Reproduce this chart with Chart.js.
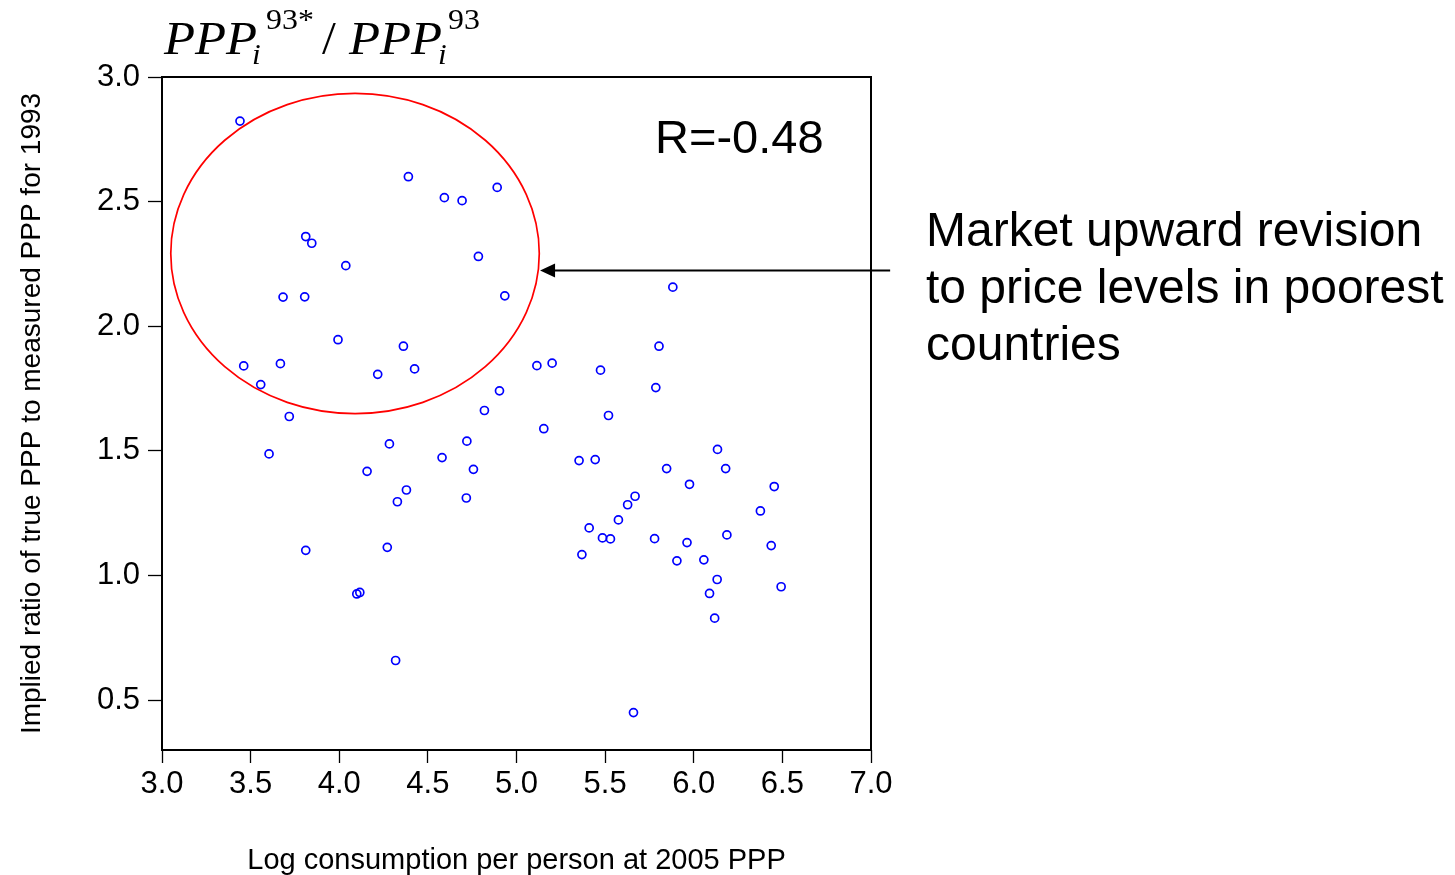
<!DOCTYPE html>
<html>
<head>
<meta charset="utf-8">
<title>PPP revision vs consumption</title>
<script src="https://cdn.jsdelivr.net/npm/chart.js@4.4.0/dist/chart.umd.min.js"></script>
<style>
  html, body { margin: 0; padding: 0; background: #ffffff; }
  #wrap { width: 1455px; height: 875px; position: relative; }
</style>
</head>
<body>
<div id="wrap"><canvas id="chart" width="1455" height="875"></canvas></div>
<script>
// Log consumption per person (2005 PPP) for each country
const logConsumption = [
  3.440, 3.461, 3.557, 3.604, 3.668, 3.683, 3.718, 3.811, 3.845, 3.805,
  3.811, 3.993, 4.037, 4.099, 4.116, 4.157, 4.217, 4.271, 4.283, 4.318,
  4.328, 4.362, 4.379, 4.390, 4.425, 4.580, 4.593, 4.693, 4.717, 4.720,
  4.757, 4.785, 4.819, 4.891, 4.904, 4.934, 5.115, 5.154, 5.201, 5.353,
  5.369, 5.410, 5.444, 5.474, 5.485, 5.519, 5.530, 5.575, 5.627, 5.669,
  5.660, 5.779, 5.786, 5.804, 5.847, 5.882, 5.905, 5.962, 5.976, 6.057,
  6.089, 6.118, 6.132, 6.134, 6.180, 6.187, 6.376, 6.437, 6.454, 6.493
];
// Implied ratio of true PPP to measured PPP for 1993
const pppRatio = [
  2.823, 1.841, 1.766, 1.488, 1.850, 2.117, 1.638, 2.360, 2.333, 2.118,
  1.101, 1.946, 2.243, 0.926, 0.932, 1.418, 1.807, 1.113, 1.528, 0.659,
  1.296, 1.920, 1.343, 2.600, 1.829, 1.473, 2.516, 2.504, 1.311, 1.539,
  1.426, 2.280, 1.662, 2.557, 1.741, 2.122, 1.842, 1.589, 1.852, 1.461,
  1.084, 1.191, 1.465, 1.824, 1.151, 1.642, 1.147, 1.223, 1.284, 1.318,
  0.450, 1.148, 1.754, 1.920, 1.429, 2.157, 1.059, 1.132, 1.366, 1.063,
  0.928, 0.829, 0.984, 1.506, 1.429, 1.163, 1.259, 1.120, 1.357, 0.955
];

const xTicks = [3.0, 3.5, 4.0, 4.5, 5.0, 5.5, 6.0, 6.5, 7.0];
const yTicks = [0.5, 1.0, 1.5, 2.0, 2.5, 3.0];
const xRange = [3.0, 7.0];
const yRange = [0.3, 3.0];

const xTitle = 'Log consumption per person at 2005 PPP';
const yTitle = 'Implied ratio of true PPP to measured PPP for 1993';
const correlationLabel = 'R=-0.48';
const noteLines = ['Market upward revision', 'to price levels in poorest', 'countries'];

// Ring around the poorest countries (center and radii in data units)
const poorGroup = { cx: 4.089, cy: 2.292, rx: 1.0395, ry: 0.6424 };
// Arrow from the note to the ring (data units)
const arrowTip = { x: 5.133, y: 2.226 };
const arrowTailX = 7.108;

const SANS = '"Liberation Sans", Arial, Helvetica, sans-serif';
const SERIF = '"Liberation Serif", "Times New Roman", Times, serif';

const points = logConsumption.map((v, i) => ({ x: v, y: pppRatio[i] }));

// draws text slightly widened horizontally
function wideText(ctx, text, x, y, sx) {
  ctx.save();
  ctx.translate(x, y);
  ctx.scale(sx, 1);
  ctx.fillText(text, 0, 0);
  ctx.restore();
}

const overlay = {
  id: 'overlay',
  afterDraw(chart) {
    const { ctx, chartArea: a, scales: { x, y } } = chart;
    ctx.save();

    // plot frame
    ctx.strokeStyle = '#000';
    ctx.lineWidth = 2;
    ctx.strokeRect(a.left, a.top, a.right - a.left, a.bottom - a.top);

    // ellipse around the poorest group
    const cx = x.getPixelForValue(poorGroup.cx);
    const cy = y.getPixelForValue(poorGroup.cy);
    const rx = x.getPixelForValue(poorGroup.cx + poorGroup.rx) - cx;
    const ry = cy - y.getPixelForValue(poorGroup.cy + poorGroup.ry);
    ctx.beginPath();
    ctx.ellipse(cx, cy, rx, ry, 0, 0, Math.PI * 2);
    ctx.strokeStyle = '#ff0000';
    ctx.lineWidth = 1.7;
    ctx.stroke();

    // arrow
    const tx = x.getPixelForValue(arrowTip.x);
    const ty = Math.round(y.getPixelForValue(arrowTip.y)) + 0.5;
    const tailX = x.getPixelForValue(arrowTailX);
    const headLen = 15, headHalf = 7;
    ctx.strokeStyle = '#000';
    ctx.fillStyle = '#000';
    ctx.lineWidth = 2;
    ctx.beginPath();
    ctx.moveTo(tailX, ty);
    ctx.lineTo(tx + headLen - 1, ty);
    ctx.stroke();
    ctx.beginPath();
    ctx.moveTo(tx, ty);
    ctx.lineTo(tx + headLen, ty - headHalf);
    ctx.lineTo(tx + headLen, ty + headHalf);
    ctx.closePath();
    ctx.fill();

    // correlation
    ctx.fillStyle = '#000';
    ctx.textBaseline = 'alphabetic';
    ctx.textAlign = 'left';
    ctx.font = '47px ' + SANS;
    ctx.fillText(correlationLabel, 655, 153);

    // note text
    ctx.font = '48px ' + SANS;
    noteLines.forEach((line, i) => ctx.fillText(line, 926, 246 + i * 57));

    // title: PPP_i^{93*} / PPP_i^{93}
    ctx.font = 'italic 47px ' + SERIF;
    wideText(ctx, 'PPP', 164, 54, 1.08);
    wideText(ctx, 'PPP', 349, 54, 1.08);
    ctx.font = '46px ' + SERIF;
    wideText(ctx, '/', 322, 54, 1.08);
    ctx.font = '29px ' + SERIF;
    wideText(ctx, '93*', 266, 29, 1.1);
    wideText(ctx, '93', 448, 29, 1.1);
    ctx.font = 'italic 29px ' + SERIF;
    wideText(ctx, 'i', 252, 64, 1.08);
    wideText(ctx, 'i', 438, 64, 1.08);

    ctx.restore();
  }
};

new Chart(document.getElementById('chart'), {
  type: 'scatter',
  data: {
    datasets: [{
      data: points,
      pointStyle: 'circle',
      pointRadius: 4,
      pointBorderWidth: 1.7,
      borderColor: '#0000ff',
      backgroundColor: 'rgba(255,255,255,0)',
      pointHoverRadius: 4
    }]
  },
  options: {
    responsive: false,
    animation: false,
    devicePixelRatio: 1,
    events: [],
    layout: { padding: { top: 77, right: 584, left: 0, bottom: 0 } },
    plugins: { legend: { display: false }, tooltip: { enabled: false } },
    scales: {
      x: {
        type: 'linear',
        min: xRange[0],
        max: xRange[1],
        afterBuildTicks: s => { s.ticks = xTicks.map(v => ({ value: v })); },
        afterFit: s => { s.height = 125; },
        grid: { drawOnChartArea: false, drawTicks: true, tickLength: 13, color: '#000', tickWidth: 1.3 },
        border: { display: false },
        ticks: {
          color: '#000',
          padding: 3,
          maxRotation: 0,
          font: { family: SANS, size: 31 },
          callback: v => Number(v).toFixed(1)
        },
        title: {
          display: true,
          text: xTitle,
          color: '#000',
          font: { family: SANS, size: 29, lineHeight: 1 },
          padding: { top: 0, bottom: 0 }
        }
      },
      y: {
        type: 'linear',
        min: yRange[0],
        max: yRange[1],
        afterBuildTicks: s => { s.ticks = yTicks.map(v => ({ value: v })); },
        afterFit: s => { s.width = 162; },
        grid: { drawOnChartArea: false, drawTicks: true, tickLength: 14, color: '#000', tickWidth: 1.3 },
        border: { display: false },
        ticks: {
          color: '#000',
          padding: 8,
          font: { family: SANS, size: 31 },
          callback: v => Number(v).toFixed(1)
        },
        title: {
          display: true,
          text: yTitle,
          color: '#000',
          font: { family: SANS, size: 28, lineHeight: 1 },
          padding: { top: 18, bottom: 0 }
        }
      }
    }
  },
  plugins: [overlay]
});
</script>
</body>
</html>
